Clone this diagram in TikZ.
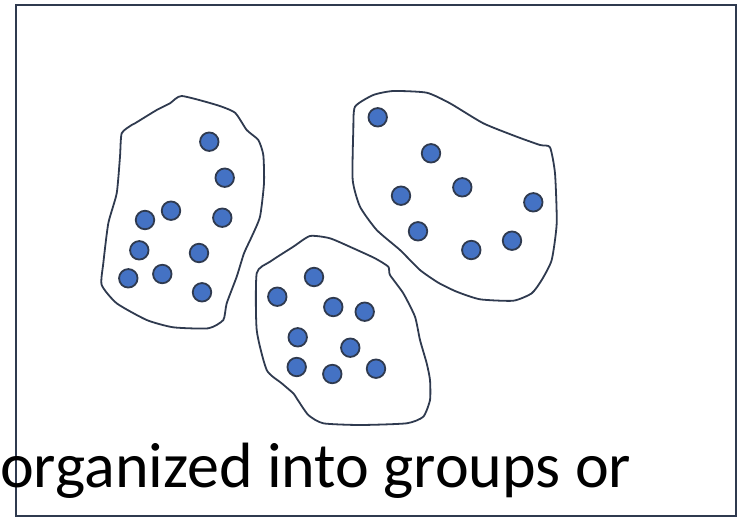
\documentclass[tikz,border=0pt]{standalone}
\usepackage{fontspec}
\setmainfont{Carlito}
\definecolor{edge}{HTML}{2F3A4F}
\definecolor{dotfill}{HTML}{4472C4}
\begin{document}
\begin{tikzpicture}[x=1pt,y=-1pt,
  blob/.style={draw=edge,line width=1.8pt,line join=round},
  dot/.style={circle,draw=edge,fill=dotfill,line width=1.8pt,minimum size=18.5pt,inner sep=0pt},
  frame/.style={draw=edge,line width=2pt}]
\useasboundingbox (0,0) rectangle (743,517);
\draw[frame] (16,5) rectangle (736,516);
% group 1
\draw[blob] plot[smooth cycle,tension=0.35] coordinates {
 (181.7,96) (216.7,105) (235,112.7) (246.7,130) (258.3,140) (263.3,155) (264,183.3)
 (260,216.7) (251.7,236.7) (244,253.3) (236.7,276.7) (226.7,303.3) (223.3,320)
 (208.3,328.3) (173.3,327.3) (146.7,320) (116.7,303.3) (101.7,285) (103.3,263.3)
 (108.3,223.3) (116.7,193.3) (120,156.7) (121.7,133.3) (131.7,125) (135,123.3)
 (156.7,110) (170,103.3)};
% group 2
\draw[blob] plot[smooth cycle,tension=0.35] coordinates {
 (355,106.7) (373.3,95) (393.3,91) (426.7,92.7) (450,103.3) (483.3,123.3) (516.7,136.7)
 (540,145) (550,147.3) (555,173.3) (556.7,223.3) (551.7,260) (541.7,280) (531.7,293.3)
 (513.3,300.7) (480,299.3) (456.7,291.7) (438.3,282.7) (420,270) (400,250) (376.7,230)
 (360,206.7) (352.7,180) (353.3,130)};
% group 3
\draw[blob] plot[smooth cycle,tension=0.35] coordinates {
 (310,236) (330,238.3) (353.3,248.3) (375,258.3) (388.3,266.7) (390,275) (403.3,293.3)
 (415,316.7) (420,340) (426.7,363.3) (430,380) (430,400) (423.3,416.7) (406.7,423.3)
 (360,425) (323.3,423.3) (308.3,415) (296.7,398.3) (293.3,393.3) (281.7,383.3)
 (266.7,370) (256.7,330) (256.7,273.3) (270,261.7) (293.3,246.7)};
% dots group 1
\node[dot] (a1) at (209.3,141.7) {};
\node[dot] (a2) at (224.7,177.7) {};
\node[dot] (a3) at (171,210.7) {};
\node[dot] (a4) at (145,220) {};
\node[dot] (a5) at (222.3,217.7) {};
\node[dot] (a6) at (139.3,250.3) {};
\node[dot] (a7) at (199,253) {};
\node[dot] (a8) at (128.3,278.3) {};
\node[dot] (a9) at (162.3,274) {};
\node[dot] (a10) at (202,292.3) {};
% dots group 2
\node[dot] (b1) at (377.7,117.3) {};
\node[dot] (b2) at (431,153.3) {};
\node[dot] (b3) at (462.3,187.3) {};
\node[dot] (b4) at (401,195.7) {};
\node[dot] (b5) at (533.3,202.3) {};
\node[dot] (b6) at (418,231.3) {};
\node[dot] (b7) at (512,240.7) {};
\node[dot] (b8) at (471.3,250) {};
% dots group 3
\node[dot] (c1) at (314,277) {};
\node[dot] (c2) at (277.3,296.7) {};
\node[dot] (c3) at (333.3,307) {};
\node[dot] (c4) at (364.7,311.7) {};
\node[dot] (c5) at (297.7,337.3) {};
\node[dot] (c6) at (350.3,347.7) {};
\node[dot] (c7) at (296.7,367) {};
\node[dot] (c8) at (332.3,374) {};
\node[dot] (c9) at (376,368.7) {};
% caption
\node[anchor=base west,inner sep=0pt,font=\fontsize{64}{70}\selectfont] (cap) at (0,487) {organized into groups or};
\end{tikzpicture}
\end{document}
